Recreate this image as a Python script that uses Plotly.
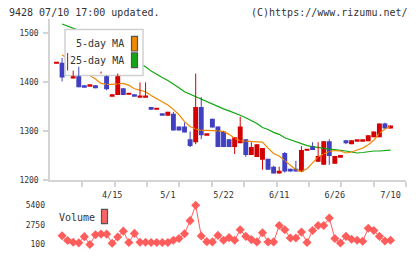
import plotly.graph_objects as go

# ---------------- data ----------------
tick_idx = [10, 20, 30, 40, 50, 60]
tick_labels = ["4/15", "5/1", "5/22", "6/11", "6/26", "7/10"]

open_ = [1439, 1440, 1428, 1408, 1432, 1394, 1393, 1394, 1418, 1414,
         1372, 1374, 1388, 1375, 1376, 1370, 1370, 1350, 1345, 1335,
         1332, 1336, 1310, 1310, 1284, 1278, 1350, 1293, 1326, 1310,
         1300, 1284, 1268, 1276, 1284, 1252, 1248, 1242, 1244, 1228,
         1214, 1256, 1224, 1224, 1218, 1261, 1270, 1238, 1232, 1280,
         1234, 1248, 1282, 1274, 1281, 1281, 1280, 1288, 1288, 1316,
         1306]
close = [1440, 1410, 1454, 1424, 1390, 1390, 1394, 1388, 1422, 1386,
         1376, 1418, 1374, 1376, 1372, 1371, 1371, 1344, 1346, 1334,
         1340, 1302, 1302, 1298, 1270, 1350, 1292, 1294, 1308, 1268,
         1268, 1268, 1288, 1310, 1252, 1268, 1274, 1266, 1222, 1214,
         1220, 1218, 1218, 1218, 1262, 1262, 1262, 1250, 1280, 1250,
         1250, 1252, 1276, 1282, 1282, 1282, 1292, 1300, 1316, 1306,
         1312]
high = [1440, 1450, 1460, 1424, 1432, 1394, 1394, 1394, 1422, 1414,
        1376, 1418, 1388, 1376, 1376, 1400, 1400, 1350, 1346, 1335,
        1340, 1340, 1310, 1318, 1300, 1418, 1370, 1294, 1326, 1310,
        1300, 1284, 1288, 1330, 1284, 1278, 1274, 1266, 1244, 1230,
        1228, 1258, 1224, 1240, 1270, 1262, 1278, 1278, 1280, 1284,
        1250, 1252, 1282, 1282, 1282, 1282, 1292, 1300, 1316, 1318,
        1312]
low = [1439, 1402, 1424, 1408, 1390, 1390, 1393, 1388, 1418, 1384,
       1372, 1374, 1374, 1375, 1372, 1370, 1370, 1344, 1345, 1334,
       1332, 1302, 1302, 1298, 1268, 1274, 1284, 1293, 1308, 1268,
       1268, 1268, 1254, 1276, 1248, 1252, 1248, 1222, 1222, 1214,
       1214, 1216, 1218, 1218, 1218, 1261, 1262, 1238, 1232, 1232,
       1234, 1248, 1274, 1274, 1281, 1281, 1280, 1288, 1288, 1306,
       1306]
ma5 = [None, 1456, 1449, 1440, 1430, 1420, 1414, 1407, 1398, 1396,
       1396, 1397, 1398, 1394, 1387, 1384, 1381, 1373, 1367, 1360,
       1354, 1345, 1334, 1320, 1310, 1305, 1302, 1302, 1302, 1301,
       1300, 1294, 1286, 1281, 1280, 1279, 1279, 1278, 1266, 1255,
       1250, 1240, 1230, 1222, 1218, 1224, 1236, 1248, 1254, 1259,
       1261, 1260, 1256, 1258, 1262, 1266, 1273, 1282, 1296, 1305,
       1310]
ma25 = [None, 1519, 1515, 1511, 1506, 1500, 1494, 1488, 1482, 1475,
        1468, 1462, 1455, 1449, 1443, 1438, 1432, 1423, 1416, 1410,
        1404, 1397, 1389, 1381, 1376, 1371, 1366, 1360, 1355, 1351,
        1346, 1342, 1338, 1333, 1328, 1322, 1316, 1308, 1304, 1298,
        1294, 1287, 1283, 1278, 1274, 1271, 1269, 1267, 1265, 1264,
        1263, 1262, 1260, 1258, 1256, 1257, 1259, 1260, 1260, 1261,
        1262]
volume = [None, 1290, 630, 400, 320, 1160, 100, 1425, 1500, 1500,
          270, 1120, 1900, 360, 1600, 400, 400, 360, 360, 360,
          360, 670, 900, 1560, 3320, 5400, 1250, 480, 450, 1330,
          670, 1030, 670, 2090, 1200, 760, 450, 1690, 450, 450,
          2660, 2090, 970, 970, 1770, 360, 1990, 2660, 2660, 3670,
          900, 310, 1200, 800, 670, 540, 2300, 1990, 1200, 580,
          670]

# ---------------- geometry / style ----------------
W, H = 420, 259
RED = "#d40000"
BLUE = "#4040c0"
ORANGE = "#f08800"
GREEN = "#10a810"
VOLC = "#ff5c5c"
AXC = "#d4d4d4"
TXT = "#333333"
MONO = "DejaVu Sans Mono"

X_L, X_R = 50, 406            # plot left/right px
C0, STEP = 56.5, 5.567        # first candle centre px, px per candle
Y_TOP, Y_BOT = 19, 184        # main panel px
P_BOT, P_PER_PX = 1200, 2.0   # price at bottom, price per px
V_TOP, V_BOT = 205, 258       # volume panel px
V_REF_PX, V_REF, V_PER_PX = 249.3, 100, 132.5

xr = [(X_L - C0) / STEP, (X_R - C0) / STEP]
yr = [P_BOT, P_BOT + (Y_BOT - Y_TOP) * P_PER_PX]
vr = [V_REF - (V_BOT - V_REF_PX) * V_PER_PX, V_REF + (V_REF_PX - V_TOP) * V_PER_PX]


def px_to_x(p):
    return (p - C0) / STEP


def px_to_price(p):
    return P_BOT + (Y_BOT - p) * P_PER_PX


def fx(p):
    return p / W


def fy(p):
    return 1 - p / H


n = len(open_)
idx = list(range(n))

fig = go.Figure()

# moving averages (drawn first, legend box covers them)
fig.add_trace(go.Scatter(x=idx, y=ma25, mode="lines", line=dict(color=GREEN, width=1.2),
                         hoverinfo="skip", cliponaxis=False))
fig.add_trace(go.Scatter(x=idx, y=ma5, mode="lines", line=dict(color=ORANGE, width=1.2),
                         hoverinfo="skip"))

# legend box (white panel over the MA lines, below the candles)
bx0, bx1, by0, by1 = px_to_x(65), px_to_x(143), px_to_price(77), px_to_price(30)
fig.add_trace(go.Scatter(x=[bx0, bx1, bx1, bx0, bx0], y=[by0, by0, by1, by1, by0],
                         mode="lines", fill="toself", fillcolor="white",
                         line=dict(color="#d0d0d0", width=1.5), hoverinfo="skip"))

# candles
for up, col in ((True, RED), (False, BLUE)):
    sel = [i for i in idx if (close[i] >= open_[i]) == up]
    wx, wy = [], []
    for i in sel:
        wx += [i, i, None]
        wy += [low[i], high[i], None]
    fig.add_trace(go.Scatter(x=wx, y=wy, mode="lines", line=dict(color=col, width=1),
                             hoverinfo="skip"))
    base = [min(open_[i], close[i]) for i in sel]
    hgt = [max(abs(close[i] - open_[i]), 3) for i in sel]
    fig.add_trace(go.Bar(x=sel, y=hgt, base=base, width=0.88,
                         marker=dict(color=col, line=dict(width=0)), hoverinfo="skip"))

# volume
fig.add_trace(go.Scatter(x=idx, y=volume, xaxis="x2", yaxis="y2", mode="lines+markers",
                         line=dict(color=VOLC, width=1),
                         marker=dict(symbol="diamond", size=7, color=VOLC),
                         hoverinfo="skip", cliponaxis=False))

tick_step = (xr[1] - xr[0]) / 11
x_ticks = [xr[0] + k * tick_step for k in range(1, 12)]

fig.update_layout(
    width=W, height=H, margin=dict(l=0, r=0, t=0, b=0),
    paper_bgcolor="white", plot_bgcolor="white",
    showlegend=False, barmode="overlay",
    font=dict(family=MONO, color=TXT, size=8),
    xaxis=dict(domain=[fx(X_L), fx(X_R)], range=xr, anchor="y",
               showgrid=False, zeroline=False, showline=True, linecolor=AXC, linewidth=1.5,
               tickmode="array", tickvals=x_ticks, ticktext=[""] * len(x_ticks),
               ticks="outside", ticklen=5, tickcolor=AXC, tickwidth=1.5),
    yaxis=dict(domain=[fy(Y_BOT), fy(Y_TOP)], range=yr, anchor="x",
               showgrid=False, zeroline=False, showline=True, linecolor=AXC, linewidth=1.5,
               tickmode="array", tickvals=[1200, 1300, 1400, 1500],
               ticks="outside", ticklen=5, tickcolor=AXC, tickwidth=1.5,
               ticklabelstandoff=3, tickfont=dict(size=8, family=MONO, color=TXT)),
    xaxis2=dict(domain=[fx(X_L), fx(X_R)], range=xr, anchor="y2", side="top",
                showgrid=False, zeroline=False, showline=False, ticks="",
                tickmode="array", tickvals=tick_idx, ticktext=tick_labels,
                tickfont=dict(size=8.5, family=MONO, color=TXT)),
    yaxis2=dict(domain=[fy(V_BOT), fy(V_TOP)], range=vr, anchor="x2",
                showgrid=False, zeroline=False, showline=False, ticks="",
                tickmode="array", tickvals=[100, 2750, 5400],
                ticklabelstandoff=4, tickfont=dict(size=8, family=MONO, color=TXT)),
)

# header texts
fig.add_annotation(xref="paper", yref="paper", x=fx(7), y=fy(13), xanchor="left", yanchor="middle",
                   text="9428 07/10 17:00 updated.", showarrow=False,
                   font=dict(family=MONO, size=10, color=TXT))
fig.add_annotation(xref="paper", yref="paper", x=fx(410), y=fy(13), xanchor="right", yanchor="middle",
                   text="(C)https://www.rizumu.net/", showarrow=False,
                   font=dict(family=MONO, size=10, color=TXT))

# legend texts and swatches
for label, ypx, col in (("5-day MA", 44.5, ORANGE), ("25-day MA", 61.5, GREEN)):
    fig.add_annotation(xref="paper", yref="paper", x=fx(126), y=fy(ypx), xanchor="right",
                       yanchor="middle", text=label, showarrow=False,
                       font=dict(family=MONO, size=10, color=TXT))
    fig.add_shape(type="rect", xref="paper", yref="paper", x0=fx(131.5), x1=fx(137.5),
                  y0=fy(ypx + 7.5), y1=fy(ypx - 7.5), fillcolor=col,
                  line=dict(color="#555555", width=1.2), layer="above")

fig.add_annotation(xref="paper", yref="paper", x=fx(97), y=fy(222), xanchor="right",
                   yanchor="middle", text="Volume", showarrow=False,
                   font=dict(family=MONO, size=10, color=TXT))
fig.add_shape(type="rect", xref="paper", yref="paper", x0=fx(101.5), x1=fx(107.5),
              y0=fy(228), y1=fy(213.5), fillcolor="#ff6464",
              line=dict(color="#555555", width=1.2), layer="above")

fig.write_html("out.html")
